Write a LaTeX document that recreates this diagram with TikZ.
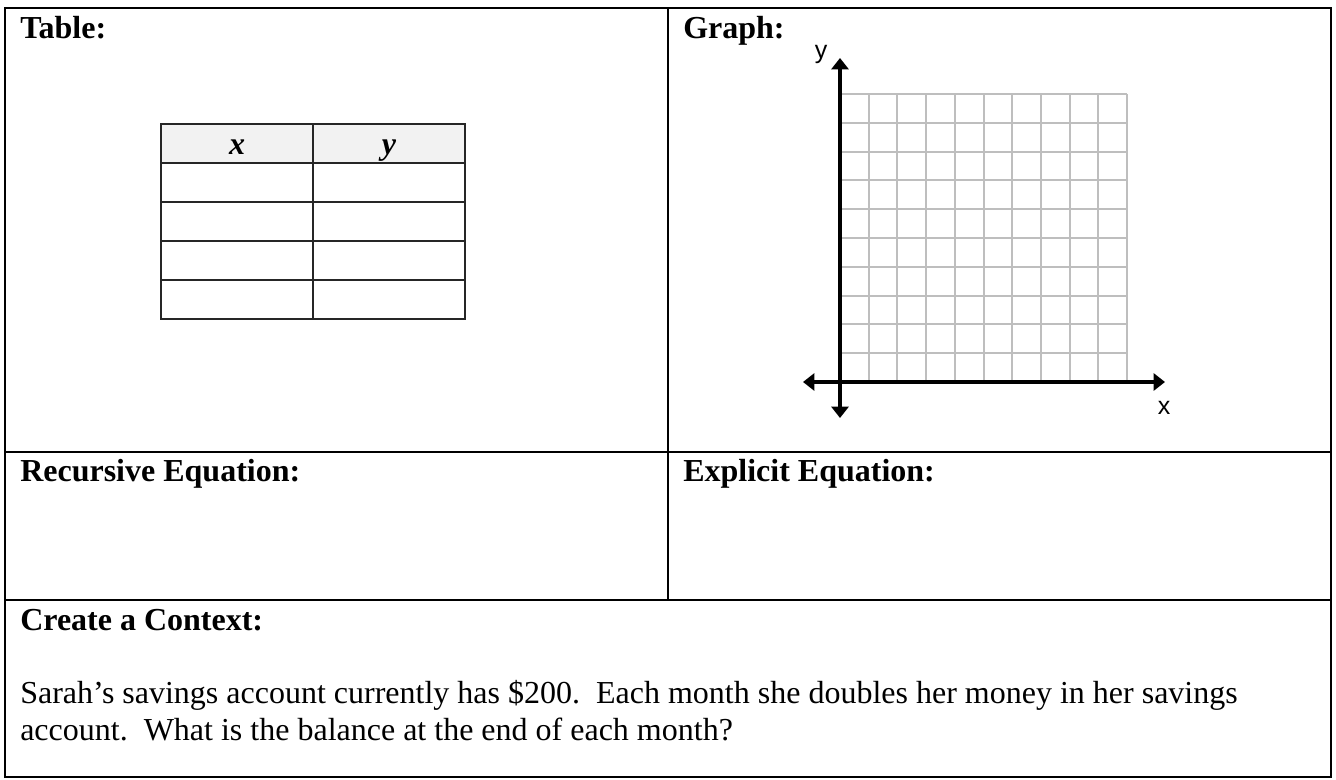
\documentclass[tikz,border=0pt]{standalone}
\usepackage{fontspec}
\setmainfont{Liberation Serif}
\setsansfont{Liberation Sans}
\usepackage{xcolor}
\usepackage{tikz}
\usetikzlibrary{arrows.meta}
\definecolor{gridgray}{RGB}{190,190,190}
\definecolor{headgray}{RGB}{242,242,242}
\tikzset{
  cellrule/.style={line width=2.2pt},
  tabrule/.style={line width=1.1pt, color=black!85},
  gridrule/.style={line width=1.5pt, color=gridgray},
  axisline/.style={line width=2.5pt, {Triangle[length=8.5pt,width=12.75pt]}-{Triangle[length=8.5pt,width=12.75pt]}},
  heading/.style={anchor=base west, inner sep=0pt, font=\fontsize{24}{29}\selectfont\bfseries},
  bodytext/.style={anchor=base west, inner sep=0pt, font=\fontsize{24}{29}\selectfont},
  axislabel/.style={inner sep=0pt, font=\fontsize{18.75}{22}\selectfont\sffamily}
}
\frenchspacing

\begin{document}
\begin{tikzpicture}[x=0.75pt,y=0.75pt,yscale=-1,xscale=1]
\useasboundingbox (0,0) rectangle (1336,780);

%Outer frame and cell rules
\draw [cellrule]  (5,8) rectangle (1331,777) ;
\draw [cellrule]  (668,8) -- (668,600) ;
\draw [cellrule]  (5,452) -- (1331,452) ;
\draw [cellrule]  (5,600) -- (1331,600) ;

%Small x-y table
\fill [headgray]  (161,124) rectangle (465,163) ;
\draw [tabrule]  (161,124) rectangle (465,319) ;
\draw [tabrule]  (313,124) -- (313,319) ;
\foreach \ty in {163,202,241,280}
  \draw [tabrule]  (161,\ty) -- (465,\ty) ;

%Grid
\foreach \gx in {0,...,10}
  \draw [gridrule]  (840+28.7*\gx,94) -- (840+28.7*\gx,382) ;
\foreach \gy in {0,...,10}
  \draw [gridrule]  (840,94+28.8*\gy) -- (1127,94+28.8*\gy) ;

%Axes
\coordinate (ybot) at (840,418) ;
\coordinate (ytop) at (840,58) ;
\coordinate (xlft) at (803,382) ;
\coordinate (xrgt) at (1165,382) ;
\draw [axisline]  (ybot) -- (ytop) ;
\draw [axisline]  (xlft) -- (xrgt) ;

% Text Node
\draw (20,39) node [heading] (tablehead) {Table:};
% Text Node
\draw (683,39) node [heading] (graphhead) {Graph:};
% Text Node
\draw (20,482) node [heading] (recurhead) {Recursive Equation:};
% Text Node
\draw (683,482) node [heading] (explhead) {Explicit Equation:};
% Text Node
\draw (20,630) node [heading] (ctxhead) {Create a Context:};
% Text Node
\draw (20,703) node [bodytext] (ctxone) {Sarah’s savings account currently has \$200.\ \ Each month she doubles her money in her savings};
% Text Node
\draw (20,740) node [bodytext] (ctxtwo) {account.\ \ What is the balance at the end of each month?};
% Text Node
\draw (237,155) node [heading, anchor=base] (colx) {\itshape x};
% Text Node
\draw (389,155) node [heading, anchor=base] (coly) {\itshape y};
% Text Node
\draw (821,54) node [axislabel] (ylab) {y};
% Text Node
\draw (1164,408) node [axislabel] (xlab) {x};

\end{tikzpicture}
\end{document}
